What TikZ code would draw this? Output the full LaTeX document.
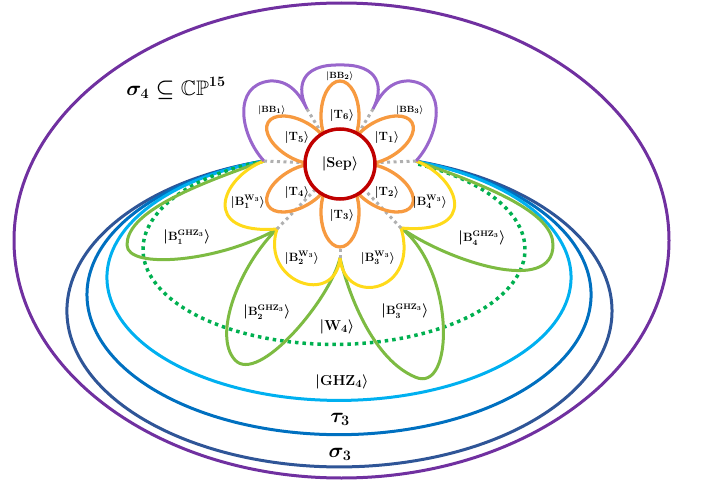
\documentclass[tikz,border=0pt]{standalone}
\usepackage{amsmath,amssymb}
\definecolor{cpurple}{HTML}{7030A0}
\definecolor{csigma}{HTML}{2F5597}
\definecolor{ctau}{HTML}{0070C0}
\definecolor{cghz}{HTML}{00B0F0}
\definecolor{cgdot}{HTML}{00B050}
\definecolor{cgreen}{HTML}{7DBB42}
\definecolor{cyellow}{HTML}{FFDA1A}
\definecolor{corange}{HTML}{F79A40}
\definecolor{cbb}{HTML}{9966CC}
\definecolor{csep}{HTML}{C00000}
\definecolor{cgray}{HTML}{B0B0B0}
\newcommand{\tallbar}{\mathopen{\text{\fontsize{15.5}{16}\selectfont$\vert$}}}
\newcommand{\tallang}{\mathclose{\text{\fontsize{15.5}{16}\selectfont$\rangle$}}}
\newcommand{\bghz}[1]{\tallbar\mathbf{B}^{\mathbf{GHZ}_{3}}_{\vphantom{(}#1}\tallang}
\begin{document}
\begin{tikzpicture}[x=1pt,y=-1pt,
  ell/.style={line width=3pt},
  lobe/.style={line width=3pt, line join=round},
  gdotted/.style={line width=3.5pt, cgdot, dash pattern=on 3.5pt off 4pt},
  graydot/.style={line width=3pt, cgray, dash pattern=on 3pt off 3.5pt},
  petal/.style={line width=3.3pt, corange},
  labT/.style={inner sep=0pt, font=\fontsize{12.5}{14}\selectfont\boldmath},
  labBB/.style={inner sep=0pt, font=\fontsize{9.5}{11}\selectfont\boldmath},
  labW/.style={inner sep=0pt, font=\fontsize{12}{14}\selectfont\boldmath},
  labG/.style={inner sep=0pt, font=\fontsize{11.5}{13}\selectfont\boldmath},
  labBig/.style={inner sep=0pt, font=\fontsize{15.5}{18}\selectfont\boldmath},
  labHuge/.style={inner sep=0pt, font=\fontsize{21}{24}\selectfont\boldmath}
]
\useasboundingbox (0,0) rectangle (705,487);

% key points
\coordinate (L) at (264,161);
\coordinate (R) at (416,161);
\coordinate (C1) at (307,109);
\coordinate (C2) at (373,109);
\coordinate (Y1) at (277,229);
\coordinate (Y2) at (340,258);
\coordinate (Y3) at (401,228);
\coordinate (T3tip) at (340,247);

% outer ellipse
\draw[ell, cpurple] (341.5,240.5) ellipse [x radius=327.5, y radius=237.5];

% nested ellipses (open at the top)
\draw[ell, csigma] (L) arc[start angle=253.92, end angle=-73.70, x radius=272.5, y radius=156];
\draw[ell, ctau] (L) arc[start angle=252.68, end angle=-72.2, x radius=252, y radius=140];
\draw[ell, cghz] (L) arc[start angle=251.14, end angle=-70.62, x radius=232, y radius=123];

% green dotted
\draw[gdotted] (L) arc[start angle=248.5, end angle=-64.6, x radius=191, y radius=95];

% green GHZ lobes
\draw[lobe, cgreen] (L) .. controls (180,190) and (127,215) .. (127,245)
  .. controls (127,270) and (220,262) .. (Y1)
  .. controls (240,265) and (212,335) .. (235,360)
  .. controls (258,385) and (330,300) .. (Y2)
  .. controls (350,300) and (375,360) .. (415,377)
  .. controls (455,395) and (455,270) .. (Y3)
  .. controls (450,262) and (553,295) .. (553,245)
  .. controls (553,215) and (500,190) .. (R);

% yellow W lobes
\draw[lobe, cyellow] (L) .. controls (220,178) and (200,235) .. (Y1)
  .. controls (260,282) and (335,308) .. (Y2)
  .. controls (345,308) and (420,292) .. (Y3)
  .. controls (480,235) and (460,178) .. (R);

% purple BB lobes
\draw[lobe, cbb] (L) .. controls (240,135) and (232,85) .. (270,81)
  .. controls (290,80) and (300,95) .. (C1)
  .. controls (296,88) and (300,64) .. (340,65)
  .. controls (380,64) and (384,88) .. (C2)
  .. controls (380,95) and (390,80) .. (410,81)
  .. controls (448,85) and (440,135) .. (R);

% separable state circle (for connector ends)
\node[circle, minimum size=70pt, inner sep=0pt] (sep) at (340,164) {};

% gray dotted links
\draw[graydot] (L) -- (sep);
\draw[graydot] (R) -- (sep);
\draw[graydot] (C1) -- (sep);
\draw[graydot] (C2) -- (sep);
\draw[graydot] (Y1) -- (sep);
\draw[graydot] (Y3) -- (sep);
\draw[graydot] (Y2) -- (T3tip);

% orange T petals
\draw[petal, rotate around={90:(340,116)}] (340,116) ellipse [x radius=35, y radius=19];
\draw[petal, rotate around={30:(381.6,140)}] (381.6,140) ellipse [x radius=35, y radius=19];
\draw[petal, rotate around={150:(298.4,140)}] (298.4,140) ellipse [x radius=35, y radius=19];
\draw[petal, rotate around={210:(298.4,188)}] (298.4,188) ellipse [x radius=35, y radius=19];
\draw[petal, rotate around={270:(340,212)}] (340,212) ellipse [x radius=35, y radius=19];
\draw[petal, rotate around={330:(381.6,188)}] (381.6,188) ellipse [x radius=35, y radius=19];

\node[circle, minimum size=70pt, inner sep=0pt, draw=csep, line width=3.5pt, fill=white,
      font=\fontsize{14.5}{16}\selectfont\boldmath] (sepc) at (340,164) {$|\mathbf{Sep}\rangle$};

% labels
\node[labHuge] (s4) at (176,88) {$\sigma_{4}\subseteq\mathbb{CP}^{15}$};
\node[labT] (t6) at (342,115) {$|\mathbf{T}_{6}\rangle$};
\node[labT] (t1) at (387,138) {$|\mathbf{T}_{1}\rangle$};
\node[labT] (t5) at (297,138) {$|\mathbf{T}_{5}\rangle$};
\node[labT] (t4) at (297,192) {$|\mathbf{T}_{4}\rangle$};
\node[labT] (t2) at (387,192) {$|\mathbf{T}_{2}\rangle$};
\node[labT] (t3) at (342,215) {$|\mathbf{T}_{3}\rangle$};
\node[labBB] (bb1) at (272,110) {$|\mathbf{BB}_{1}\rangle$};
\node[labBB] (bb2) at (340,76) {$|\mathbf{BB}_{2}\rangle$};
\node[labBB] (bb3) at (410,110) {$|\mathbf{BB}_{3}\rangle$};
\node[labW] (bw1) at (248,202) {$|\mathbf{B}_{1}^{\mathbf{W}_{3}}\rangle$};
\node[labW] (bw2) at (302,258) {$|\mathbf{B}_{2}^{\mathbf{W}_{3}}\rangle$};
\node[labW] (bw3) at (378,258) {$|\mathbf{B}_{3}^{\mathbf{W}_{3}}\rangle$};
\node[labW] (bw4) at (430,202) {$|\mathbf{B}_{4}^{\mathbf{W}_{3}}\rangle$};
\node[labG] (bg1) at (187,238) {$\bghz{1}$};
\node[labG] (bg2) at (267,313) {$\bghz{2}$};
\node[labG] (bg3) at (405,312) {$\bghz{3}$};
\node[labG] (bg4) at (482,239) {$\bghz{4}$};
\node[labBig] (w4) at (337,327) {$|\mathbf{W}_{4}\rangle$};
\node[labBig] (ghz4) at (342,382) {$|\mathbf{GHZ}_{4}\rangle$};
\node[labHuge] (tau3) at (340,419) {$\tau_{3}$};
\node[labHuge] (sig3) at (340,454) {$\sigma_{3}$};
\end{tikzpicture}
\end{document}
